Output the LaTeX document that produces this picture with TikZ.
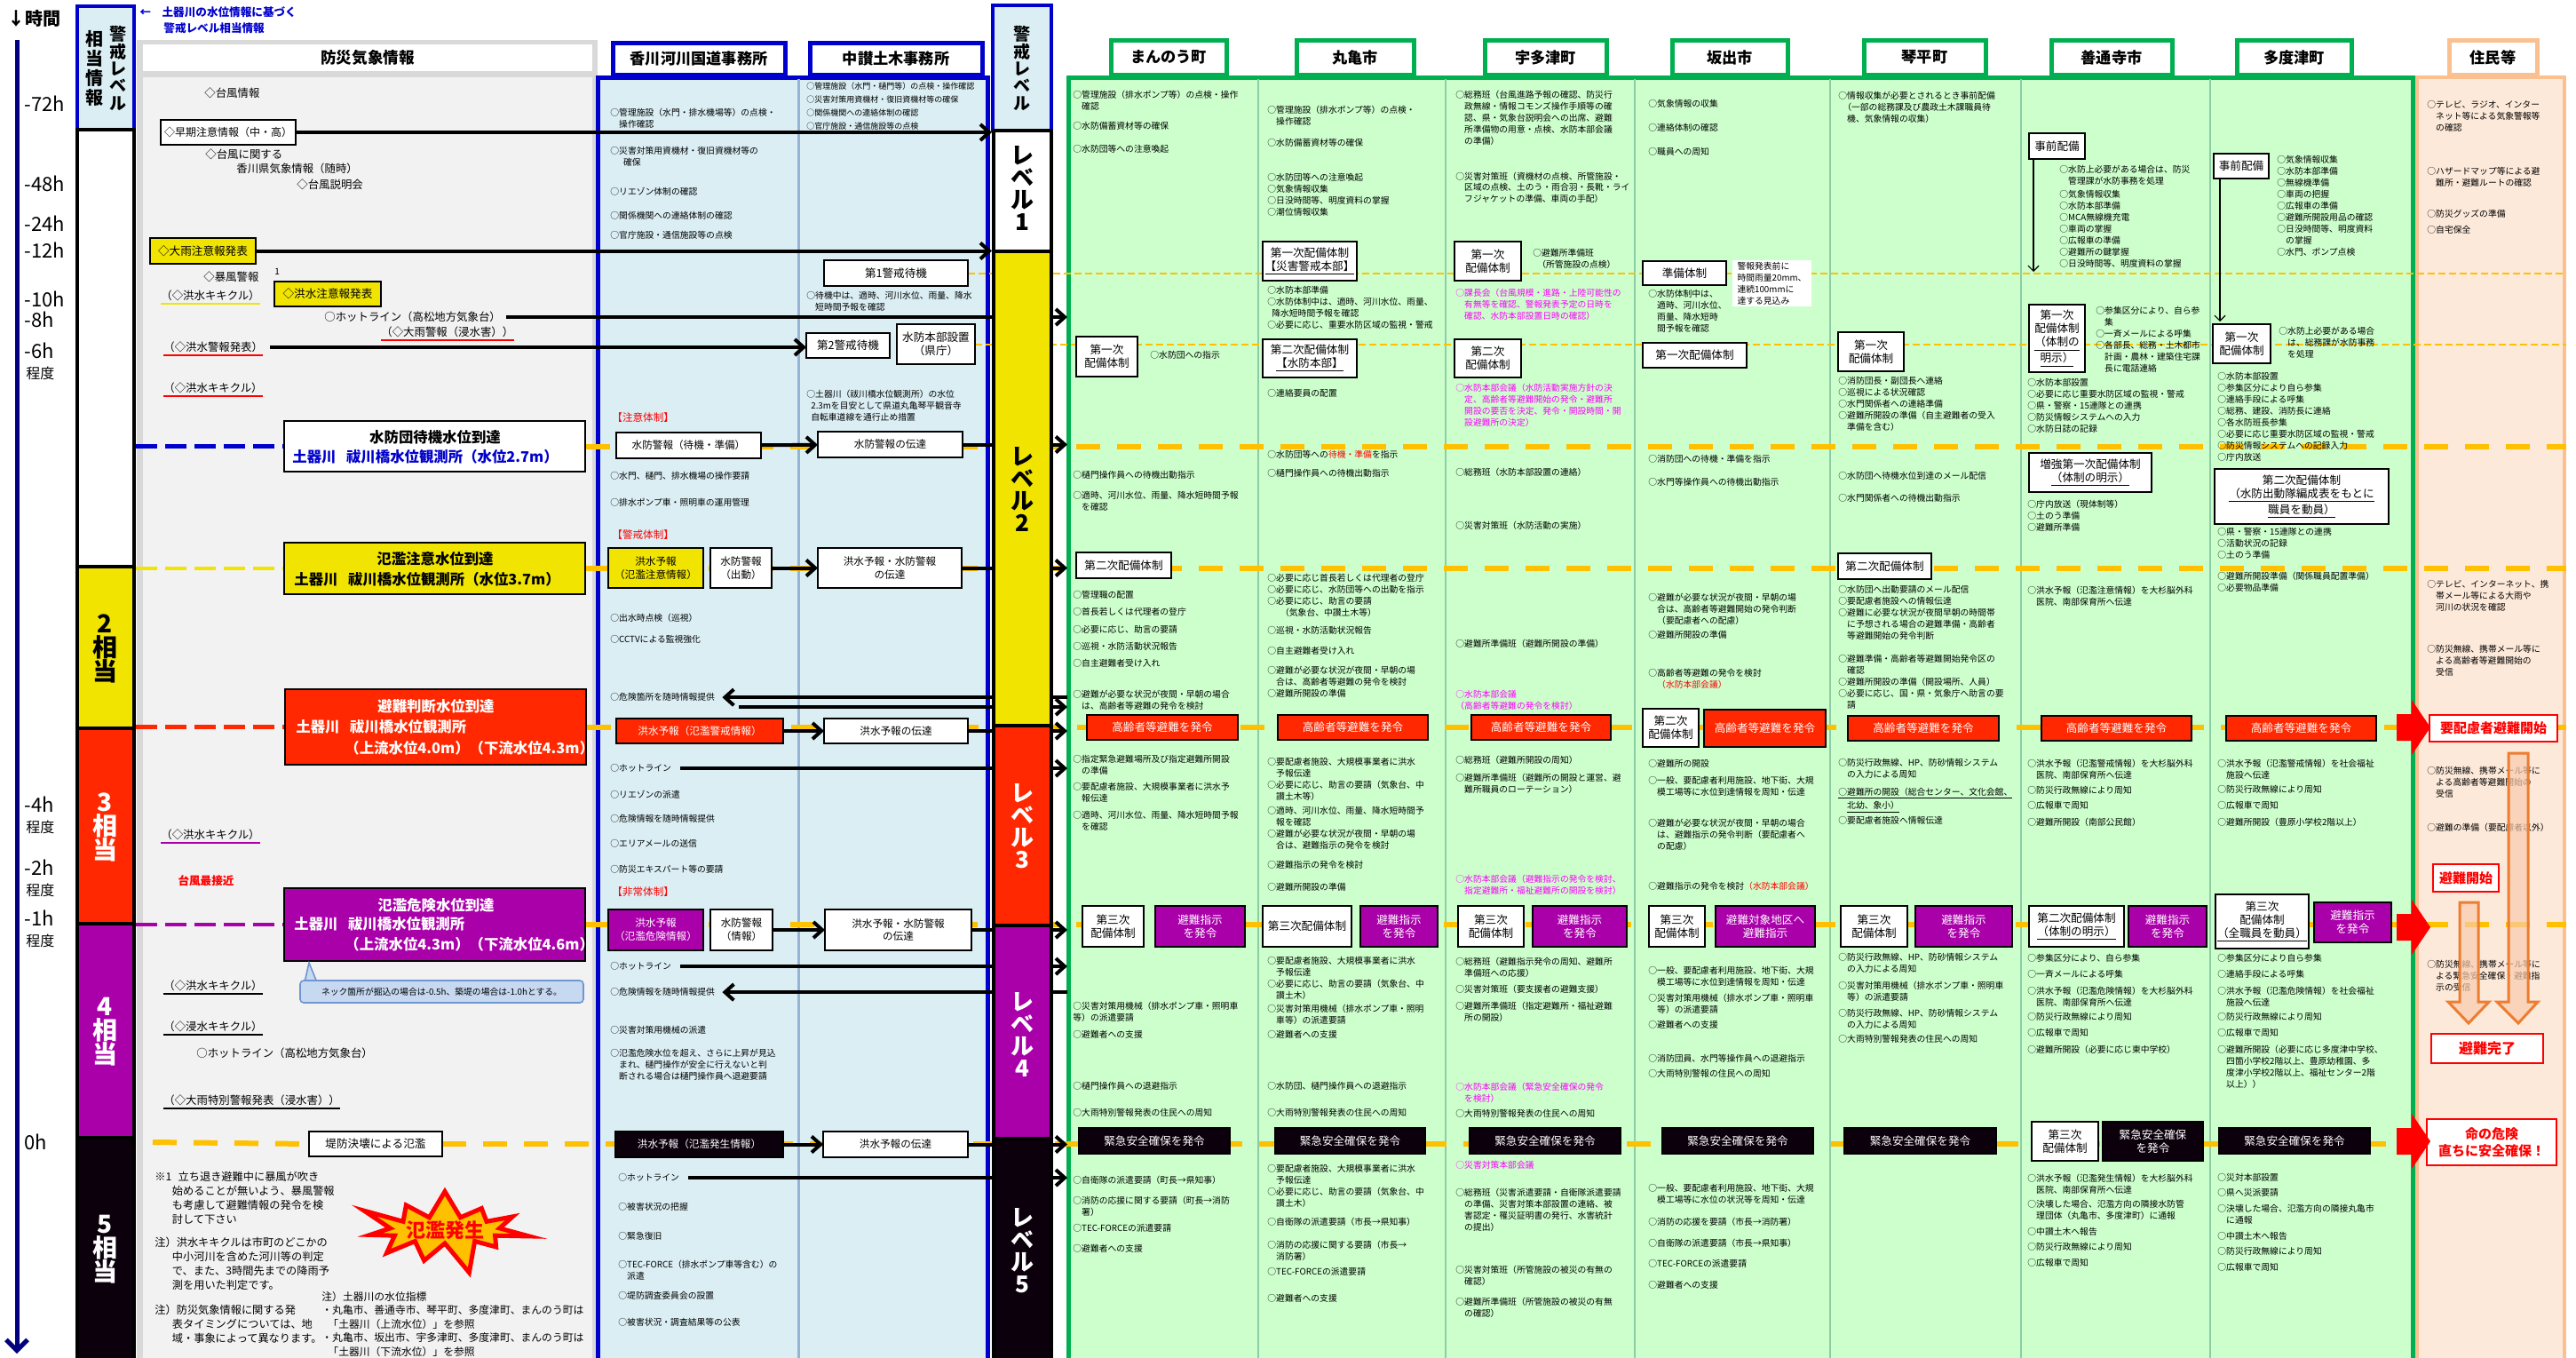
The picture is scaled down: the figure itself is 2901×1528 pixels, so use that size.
\documentclass[tikz,border=0pt]{standalone}
\usepackage{fontspec}
\setmainfont{Noto Sans CJK JP}
\setsansfont{Noto Sans CJK JP}
\usepackage{tikz}
\usetikzlibrary{arrows.meta, shapes.symbols, calc}

\definecolor{lvYel}{RGB}{240,228,0}
\definecolor{lvRed}{RGB}{255,40,0}
\definecolor{lvPur}{RGB}{170,0,170}
\definecolor{lvBlk}{RGB}{12,0,12}
\definecolor{frBlue}{RGB}{0,0,204}
\definecolor{bgBlue}{RGB}{218,238,243}
\definecolor{gold}{RGB}{255,192,0}
\definecolor{frGreen}{RGB}{0,176,80}
\definecolor{bgGreen}{RGB}{204,255,204}
\definecolor{dvGreen}{RGB}{140,205,165}
\definecolor{bgPeach}{RGB}{253,233,217}
\definecolor{frPeach}{RGB}{250,192,144}
\definecolor{txMag}{RGB}{255,0,255}
\definecolor{txRed}{RGB}{255,0,0}
\definecolor{bgGray}{RGB}{242,242,242}
\definecolor{frGray}{RGB}{217,217,217}
\definecolor{dvBlue}{RGB}{149,179,215}
\definecolor{navy}{RGB}{0,0,128}
\definecolor{bgCall}{RGB}{198,217,241}
\definecolor{frCall}{RGB}{110,150,210}
\definecolor{orgDark}{RGB}{237,125,49}
\definecolor{orgLite}{RGB}{248,203,173}

\pgfdeclarelayer{bg}
\pgfdeclarelayer{ln}
\pgfsetlayers{bg,ln,main}

% small text at first-line centre
\newcommand{\tx}[5][black]{\node[tx,text=#1] (#2) at (#3,#4) {#5};}
% box from corner to corner
\newcommand{\bx}[7]{\node[#1, minimum width={(#5-#3)*0.5pt}, minimum height={(#6-#4)*0.5pt}] (#2) at ({(#3+#5)/2},{(#4+#6)/2}) {#7};}
\newcommand{\ind}{\hspace*{1em}}

\begin{document}
\begin{tikzpicture}[x=0.5pt, y=-0.5pt,
    tx/.style={anchor=north west, inner sep=0pt, align=left, yshift=2.4pt, font=\fontsize{4.9}{6.5}\selectfont},
    ctx/.style={tx, font=\fontsize{4.5}{6}\selectfont},
    gtx/.style={anchor=west, inner sep=0pt, font=\fontsize{6.2}{7.4}\selectfont},
    ntx/.style={anchor=north west, inner sep=0pt, align=left, yshift=3pt, font=\fontsize{6.1}{7.9}\selectfont},
    bxb/.style={draw=black, line width=0.8pt, inner sep=0.5pt, outer sep=0pt, align=center, font=\fontsize{6.3}{7.6}\selectfont},
    wbox/.style={bxb, fill=white},
    rbox/.style={bxb, fill=lvRed, text=white},
    pbox/.style={bxb, fill=lvPur, text=white},
    kbox/.style={bxb, fill=lvBlk, text=white},
    ybox/.style={bxb, fill=lvYel},
    sbox/.style={font=\fontsize{5.8}{7.4}\selectfont},
    nbox/.style={fill=white, inner sep=1pt, align=left, font=\fontsize{4.9}{6.5}\selectfont},
    hbB/.style={draw=frBlue, line width=2.5pt, fill=white, inner sep=0pt, font=\bfseries\fontsize{8.6}{9}\selectfont},
    hbG/.style={hbB, draw=frGreen},
    hbP/.style={hbB, draw=frPeach},
    hbW/.style={fill=white, inner sep=0pt, font=\bfseries\fontsize{8.8}{9}\selectfont},
    rwb/.style={draw=txRed, line width=1.2pt, fill=white, text=txRed, inner sep=0pt, align=center, font=\bfseries\fontsize{7.5}{9.5}\selectfont},
    lvseg/.style={draw=black, line width=2pt, inner sep=0pt},
    lvhead/.style={draw=frBlue, line width=2pt, fill=bgBlue, inner sep=0pt},
    vtx/.style={align=center, inner sep=0pt, font=\bfseries\fontsize{9.5}{9.7}\selectfont},
    lvt/.style={align=center, inner sep=0pt, font=\bfseries\fontsize{13}{12.5}\selectfont},
    swt/.style={align=center, inner sep=0pt, font=\bfseries\fontsize{14}{13.5}\selectfont},
    wlb/.style={draw=black, line width=1.3pt},
    wlt/.style={inner sep=0pt, font=\bfseries\fontsize{8.2}{9}\selectfont},
    tlab/.style={anchor=west, inner sep=0pt, font=\fontsize{11}{12}\selectfont},
    arr/.style={line width=2pt, -{Straight Barb[length=5pt,width=9pt]}},
    gdash/.style={gold, line width=3pt, dash pattern=on 13.5pt off 9.5pt},
    gthin/.style={gold, line width=1pt, dash pattern=on 4pt off 2pt},
    ldash/.style={line width=2.3pt, dash pattern=on 12pt off 4.5pt},
    ul/.style={line width=1.1pt}]
\useasboundingbox (0,0) rectangle (2901,1528);

% ---------- backgrounds
\begin{pgfonlayer}{bg}
    \fill[white] (0,0) rectangle (2901,1528);
    \fill[frGray] (154,45) rectangle (673,1540);
    \fill[bgGray] (161,87) rectangle (667,1540);
    \draw[frBlue, line width=2.5pt, fill=bgBlue] (673,1540) -- (673,87) -- (1112,87) -- (1112,1540);
    \draw[dvBlue, line width=1.5pt] (899,89) -- (899,1540);
    \draw[frGreen, line width=2.5pt, fill=bgGreen] (1203,1540) -- (1203,87) -- (2717,87) -- (2717,1540);
    \foreach \xx in {1417,1628,1841,2061,2276,2489}
        \draw[dvGreen, line width=1.2pt] (\xx,89) -- (\xx,1540);
    \draw[frPeach, line width=2pt, fill=bgPeach] (2722,1540) -- (2722,87) -- (2888,87) -- (2888,1540);
\end{pgfonlayer}

\coordinate (gL) at (1202,0);
\coordinate (pR) at (2890,0);

% ---------- time axis
\node[anchor=west, inner sep=0pt, font=\bfseries\fontsize{10}{11}\selectfont] (tHead) at (8,21) {↓時間};
\coordinate (tTop) at (19,45);
\coordinate (tBot) at (19,1524);
\draw[navy, line width=2.5pt, -{Straight Barb[length=6pt,width=12pt]}] (tTop) -- (tBot);
\foreach \t/\yy in {-72h/117, -48h/207, -24h/252, -12h/282, -10h/337, -8h/360, -6h/395, -4h/906, -2h/977, -1h/1034, 0h/1286}
    \node[tlab] (t\yy) at (27,\yy) {\t};
\foreach \yy in {420, 931, 1002, 1059}
    \node[anchor=west, inner sep=0pt, font=\fontsize{8}{9}\selectfont] (d\yy) at (29,\yy) {程度};

% ---------- level equivalent column
\node[anchor=west, inner sep=0pt, text=frBlue, font=\bfseries\fontsize{6.3}{7}\selectfont] (topA) at (157,14) {←\hspace{1em}土器川の水位情報に基づく};
\node[anchor=west, inner sep=0pt, text=frBlue, font=\bfseries\fontsize{6.3}{7}\selectfont] (topB) at (184,32) {警戒レベル相当情報};
\bx{lvhead}{sH}{87}{7}{151}{146}{}
\node[vtx] (sHa) at (133,77) {警\\戒\\レ\\ベ\\ル};
\node[vtx, font=\bfseries\fontsize{10}{10.9}\selectfont] (sHb) at (106,77) {相\\当\\情\\報};
\bx{lvseg, fill=white}{s1}{87}{146}{151}{638}{}
\bx{lvseg, fill=lvYel}{s2}{87}{638}{151}{820}{}
\bx{lvseg, fill=lvRed}{s3}{87}{820}{151}{1040}{}
\bx{lvseg, fill=lvPur}{s4}{87}{1040}{151}{1281}{}
\bx{lvseg, fill=lvBlk}{s5}{87}{1281}{151}{1540}{}
\node[swt] (s2t) at (118,730) {2\\相\\当};
\node[swt, text=white] (s3t) at (118,931) {3\\相\\当};
\node[swt, text=white] (s4t) at (118,1162) {4\\相\\当};
\node[swt, text=white] (s5t) at (118,1407) {5\\相\\当};

% ---------- weather information column
\bx{hbW}{hBou}{161}{50}{667}{80}{防災気象情報}
\node[gtx] (b1) at (230,105) {◇台風情報};
\bx{wbox, font=\fontsize{6}{7}\selectfont}{early}{181}{135}{333}{163}{◇早期注意情報（中・高）}
\node[gtx] (b2) at (231,174) {◇台風に関する};
\node[gtx] (b3) at (266,190) {香川県気象情報（随時）};
\node[gtx] (b4) at (334,208) {◇台風説明会};
\bx{ybox}{heavy}{169}{268}{288}{297}{◇大雨注意報発表}
\node[gtx] (b5) at (229,312) {◇暴風警報};
\node[gtx, font=\fontsize{5}{6}\selectfont] (b5n) at (309,306) {1};
\node[gtx] (b6) at (181,333) {（◇洪水キキクル）};
\bx{ybox}{floodA}{309}{317}{429}{345}{◇洪水注意報発表}
\node[gtx] (b7) at (365,357) {○ホットライン（高松地方気象台）};
\node[gtx] (b8) at (429,374) {（◇大雨警報（浸水害））};
\node[gtx] (b9) at (184,391) {（◇洪水警報発表）};
\node[gtx] (b10) at (184,437) {（◇洪水キキクル）};

\bx{wlb, fill=white}{wl1}{320}{474}{659}{531}{}
\node[wlt] (wl1a) at (490,492) {水防団待機水位到達};
\node[wlt, anchor=west, text=frBlue] (wl1b) at (329,514) {土器川\hspace{0.7em}祓川橋水位観測所（水位2.7m）};
\bx{wlb, fill=lvYel}{wl2}{320}{611}{659}{669}{}
\node[wlt] (wl2a) at (490,629) {氾濫注意水位到達};
\node[wlt, anchor=west] (wl2b) at (331,652) {土器川\hspace{0.7em}祓川橋水位観測所（水位3.7m）};
\bx{wlb, fill=lvRed}{wl3}{321}{776}{660}{861}{}
\node[wlt, text=white] (wl3a) at (491,795) {避難判断水位到達};
\node[wlt, anchor=west, text=white] (wl3b) at (333,818) {土器川\hspace{0.7em}祓川橋水位観測所};
\node[wlt, anchor=west, text=white] (wl3c) at (388,842) {（上流水位4.0m）（下流水位4.3m）};
\node[gtx] (b11) at (181,940) {（◇洪水キキクル）};
\node[inner sep=0pt, text=txRed, font=\bfseries\fontsize{6.3}{7}\selectfont] (typh) at (232,992) {台風最接近};
\bx{wlb, fill=lvPur}{wl4}{320}{1000}{659}{1082}{}
\node[wlt, text=white] (wl4a) at (491,1019) {氾濫危険水位到達};
\node[wlt, anchor=west, text=white] (wl4b) at (331,1040) {土器川\hspace{0.7em}祓川橋水位観測所};
\node[wlt, anchor=west, text=white] (wl4c) at (388,1063) {（上流水位4.3m）（下流水位4.6m）};
\draw[frCall, line width=0.8pt, fill=bgCall] (343,1106) -- (348,1084) -- (357,1106);
\node[draw=frCall, line width=0.8pt, fill=bgCall, rounded corners=2pt, minimum width=159.5pt, minimum height=12.5pt, inner sep=0pt, font=\fontsize{4.9}{5.5}\selectfont] (neck) at (497.5,1116.5) {ネック箇所が掘込の場合は-0.5h、築堤の場合は-1.0hとする。};
\node[gtx] (b13) at (184,1110) {（◇洪水キキクル）};
\node[gtx] (b14) at (184,1156) {（◇浸水キキクル）};
\node[gtx] (b15) at (221,1186) {○ホットライン（高松地方気象台）};
\node[gtx] (b16) at (184,1239) {（◇大雨特別警報発表（浸水害））};
\bx{wbox}{breach}{348}{1274}{498}{1302}{堤防決壊による氾濫}
\node[ntx] (n1) at (174,1325) {※1\hspace{0.6em}立ち退き避難中に暴風が吹き\\\hspace*{1.6em}始めることが無いよう、暴風警報\\\hspace*{1.6em}も考慮して避難情報の発令を検\\\hspace*{1.6em}討して下さい};
\node[ntx] (n2) at (174,1399) {注）洪水キキクルは市町のどこかの\\\hspace*{1.6em}中小河川を含めた河川等の判定\\\hspace*{1.6em}で、また、3時間先までの降雨予\\\hspace*{1.6em}測を用いた判定です。};
\node[ntx] (n3) at (174,1475) {注）防災気象情報に関する発\\\hspace*{1.6em}表タイミングについては、地\\\hspace*{1.6em}域・事象によって異なります。};
\node[ntx, font=\fontsize{5.9}{7.7}\selectfont] (n4) at (362,1460) {注）土器川の水位指標\\・丸亀市、善通寺市、琴平町、多度津町、まんのう町は\\\hspace*{0.6em}「土器川（上流水位）」を参照\\・丸亀市、坂出市、宇多津町、多度津町、まんのう町は\\\hspace*{0.6em}「土器川（下流水位）」を参照};
\node[starburst, starburst points=11, starburst point height=20pt, fill=gold, draw=txRed, line width=2.5pt, minimum width=80pt, minimum height=40pt, inner sep=0pt, text=txRed, font=\bfseries\fontsize{11}{12}\selectfont] (burst) at (501,1385) {氾濫発生};

% ---------- river office columns
\bx{hbB}{hKag}{690}{48}{884}{84}{香川河川国道事務所}
\bx{hbB}{hChu}{912}{48}{1106}{84}{中讃土木事務所}
\tx{k1}{687}{127}{○管理施設（水門・排水機場等）の点検・\\\ind 操作確認}
\tx{k2}{687}{170}{○災害対策用資機材・復旧資機材等の\\\hspace*{1.5em}確保}
\tx{k3}{687}{216}{○リエゾン体制の確認}
\tx{k4}{687}{243}{○関係機関への連絡体制の確認}
\tx{k5}{687}{265}{○官庁施設・通信施設等の点検}
\node[ctx] (c1) at (908,97) {○管理施設（水門・樋門等）の点検・操作確認};
\node[ctx] (c2) at (908,112) {○災害対策用資機材・復旧資機材等の確保};
\node[ctx] (c3) at (908,127) {○関係機関への連絡体制の確認};
\node[ctx] (c4) at (908,142) {○官庁施設・通信施設等の点検};
\bx{wbox}{kw1}{928}{293}{1090}{322}{第1警戒待機}
\tx{c5}{908}{333}{○待機中は、適時、河川水位、雨量、降水\\\ind 短時間予報を確認}
\bx{wbox}{kw2}{908}{375}{1002}{403}{第2警戒待機}
\bx{wbox}{hq}{1010}{365}{1098}{410}{水防本部設置\\（県庁）}
\tx{c6}{908}{443}{○土器川（祓川橋水位観測所）の水位\\\hspace*{0.5em}2.3mを目安として県道丸亀琴平観音寺\\\hspace*{0.5em}自転車道線を通行止め措置}
\node[anchor=west, inner sep=0pt, text=txRed, font=\fontsize{5.8}{7}\selectfont] (kz1) at (689,470) {【注意体制】};
\bx{wbox,sbox}{sb1}{694}{487}{857}{516}{水防警報（待機・準備）}
\bx{wbox,sbox}{sb1t}{921}{486}{1084}{515}{水防警報の伝達}
\tx{k6}{687}{536}{○水門、樋門、排水機場の操作要請}
\tx{k7}{687}{566}{○排水ポンプ車・照明車の運用管理}
\node[anchor=west, inner sep=0pt, text=txRed, font=\fontsize{5.8}{7}\selectfont] (kz2) at (689,602) {【警戒体制】};
\bx{ybox,sbox}{fy}{685}{617}{792}{662}{洪水予報\\（氾濫注意情報）}
\bx{wbox,sbox}{fy2}{800}{617}{869}{662}{水防警報\\（出動）}
\bx{wbox,sbox}{fyt}{921}{617}{1083}{662}{洪水予報・水防警報\\の伝達}
\tx{k8}{687}{695}{○出水時点検（巡視）}
\tx{k9}{687}{720}{○CCTVによる監視強化}
\tx{k10}{687}{785}{○危険箇所を随時情報提供}
\coordinate (dB) at (832,796);
\bx{rbox,sbox}{fr}{694}{809}{882}{837}{洪水予報（氾濫警戒情報）}
\bx{wbox,sbox}{frt}{928}{809}{1090}{837}{洪水予報の伝達}
\tx{k11}{687}{865}{○ホットライン}
\tx{k12}{687}{895}{○リエゾンの派遣}
\tx{k13}{687}{922}{○危険情報を随時情報提供}
\tx{k14}{687}{950}{○エリアメールの送信}
\tx{k15}{687}{979}{○防災エキスパート等の要請}
\node[anchor=west, inner sep=0pt, text=txRed, font=\fontsize{5.8}{7}\selectfont] (kz3) at (689,1004) {【非常体制】};
\bx{pbox,sbox}{fp}{685}{1024}{792}{1070}{洪水予報\\（氾濫危険情報）}
\bx{wbox,sbox}{fp2}{800}{1024}{870}{1070}{水防警報\\（情報）}
\bx{wbox,sbox}{fpt}{929}{1024}{1094}{1070}{洪水予報・水防警報\\の伝達}
\tx{k16}{687}{1088}{○ホットライン}
\tx{k17}{687}{1117}{○危険情報を随時情報提供}
\tx{k18}{687}{1160}{○災害対策用機械の派遣}
\tx{k19}{687}{1186}{○氾濫危険水位を超え、さらに上昇が見込\\\ind まれ、樋門操作が安全に行えないと判\\\ind 断される場合は樋門操作員へ退避要請}
\bx{kbox,sbox}{fk}{693}{1274}{882}{1303}{洪水予報（氾濫発生情報）}
\bx{wbox,sbox}{fkt}{927}{1274}{1090}{1303}{洪水予報の伝達}
\tx{k20}{696}{1326}{○ホットライン}
\tx{k21}{696}{1359}{○被害状況の把握}
\tx{k22}{696}{1392}{○緊急復旧}
\tx{k23}{696}{1423}{○TEC-FORCE（排水ポンプ車等含む）の\\\ind 派遣}
\tx{k24}{696}{1459}{○堤防調査委員会の設置}
\tx{k25}{696}{1489}{○被害状況・調査結果等の公表}

% ---------- alert level column
\bx{lvhead}{lvH}{1118}{6}{1184}{147}{}
\node[vtx] (lvHt) at (1151,77) {警\\戒\\レ\\ベ\\ル};
\bx{lvseg, fill=white}{lv1}{1119}{147}{1184}{283}{}
\bx{lvseg, fill=lvYel}{lv2}{1119}{283}{1184}{817}{}
\bx{lvseg, fill=lvRed}{lv3}{1119}{817}{1184}{1042}{}
\bx{lvseg, fill=lvPur}{lv4}{1119}{1042}{1184}{1282}{}
\bx{lvseg, fill=lvBlk}{lv5}{1119}{1282}{1184}{1540}{}
\node[lvt] (lv1t) at (1151,212) {レ\\ベ\\ル\\1};
\node[lvt] (lv2t) at (1151,551) {レ\\ベ\\ル\\2};
\node[lvt, text=white] (lv3t) at (1151,930) {レ\\ベ\\ル\\3};
\node[lvt, text=white] (lv4t) at (1151,1165) {レ\\ベ\\ル\\4};
\node[lvt, text=white] (lv5t) at (1151,1408) {レ\\ベ\\ル\\5};

% ---------- municipality headers
\bx{hbG}{hMan}{1251}{45}{1381}{84}{まんのう町}
\bx{hbG}{hMar}{1460}{45}{1592}{84}{丸亀市}
\bx{hbG}{hUta}{1672}{45}{1809}{84}{宇多津町}
\bx{hbG}{hSak}{1883}{45}{2013}{84}{坂出市}
\bx{hbG}{hKot}{2099}{45}{2236}{84}{琴平町}
\bx{hbG}{hZen}{2310}{45}{2446}{84}{善通寺市}
\bx{hbG}{hTad}{2519}{45}{2648}{84}{多度津町}
\bx{hbP}{hJum}{2758}{45}{2857}{84}{住民等}

% ---------- まんのう町
\tx{ma1}{1208}{107}{○管理施設（排水ポンプ等）の点検・操作\\\ind 確認}
\tx{ma2}{1208}{142}{○水防備蓄資材等の確保}
\tx{ma3}{1208}{168}{○水防団等への注意喚起}
\bx{wbox}{maB1}{1212}{379}{1281}{424}{第一次\\配備体制}
\tx{ma4}{1295}{400}{○水防団への指示}
\tx{ma5}{1208}{535}{○樋門操作員への待機出動指示}
\tx{ma6}{1208}{558}{○適時、河川水位、雨量、降水短時間予報\\\ind を確認}
\bx{wbox}{maB2}{1212}{622}{1319}{651}{第二次配備体制}
\tx{ma7}{1208}{670}{○管理職の配置}
\tx{ma8}{1208}{689}{○首長若しくは代理者の登庁}
\tx{ma9}{1208}{709}{○必要に応じ、助言の要請}
\tx{ma10}{1208}{728}{○巡視・水防活動状況報告}
\tx{ma11}{1208}{747}{○自主避難者受け入れ}
\tx{ma12}{1208}{782}{○避難が必要な状況が夜間・早朝の場合\\\ind は、高齢者等避難の発令を検討}
\bx{rbox}{maR}{1224}{805}{1394}{833}{高齢者等避難を発令}
\tx{ma13}{1208}{855}{○指定緊急避難場所及び指定避難所開設\\\ind の準備}
\tx{ma14}{1208}{886}{○要配慮者施設、大規模事業者に洪水予\\\ind 報伝達}
\tx{ma15}{1208}{918}{○適時、河川水位、雨量、降水短時間予報\\\ind を確認}
\bx{wbox}{maB3}{1219}{1020}{1288}{1066}{第三次\\配備体制}
\bx{pbox}{maP}{1301}{1020}{1402}{1066}{避難指示\\を発令}
\tx{ma16}{1208}{1132}{○災害対策用機械（排水ポンプ車・照明車\\等）の派遣要請}
\tx{ma17}{1208}{1165}{○避難者への支援}
\tx{ma18}{1208}{1223}{○樋門操作員への退避指示}
\tx{ma19}{1208}{1253}{○大雨特別警報発表の住民への周知}
\bx{kbox}{maK}{1215}{1270}{1385}{1299}{緊急安全確保を発令}
\tx{ma20}{1208}{1328}{○自衛隊の派遣要請（町長→県知事）}
\tx{ma21}{1208}{1351}{○消防の応援に関する要請（町長→消防\\\ind 署）}
\tx{ma22}{1208}{1383}{○TEC-FORCEの派遣要請}
\tx{ma23}{1208}{1406}{○避難者への支援}

% ---------- 丸亀市
\tx{mr1}{1427}{124}{○管理施設（排水ポンプ等）の点検・\\\ind 操作確認}
\tx{mr2}{1427}{161}{○水防備蓄資材等の確保}
\tx{mr3}{1427}{200}{○水防団等への注意喚起\\○気象情報収集\\○日没時間等、明度資料の掌握\\○潮位情報収集}
\bx{wbox}{mrB1}{1422}{272}{1528}{316}{第一次配備体制\\\underline{【災害警戒本部】}}
\tx{mr4}{1427}{327}{○水防本部準備\\○水防体制中は、適時、河川水位、雨量、\\\hspace*{0.5em}降水短時間予報を確認\\○必要に応じ、重要水防区域の監視・警戒}
\bx{wbox}{mrB2}{1422}{382}{1528}{425}{第二次配備体制\\\underline{【水防本部】}}
\tx{mr5}{1427}{443}{○連絡要員の配置}
\tx{mr6}{1427}{512}{○水防団等への\textcolor{txRed}{待機・準備}を指示}
\tx{mr7}{1427}{533}{○樋門操作員への待機出動指示}
\tx{mr8}{1427}{651}{○必要に応じ首長若しくは代理者の登庁\\○必要に応じ、水防団等への出動を指示\\○必要に応じ、助言の要請\\\hspace*{1.5em}（気象台、中讃土木等）}
\tx{mr9}{1427}{710}{○巡視・水防活動状況報告}
\tx{mr10}{1427}{733}{○自主避難者受け入れ}
\tx{mr11}{1427}{755}{○避難が必要な状況が夜間・早朝の場\\\ind 合は、高齢者等避難の発令を検討\\○避難所開設の準備}
\bx{rbox}{mrR}{1439}{805}{1608}{833}{高齢者等避難を発令}
\tx{mr12}{1427}{858}{○要配慮者施設、大規模事業者に洪水\\\ind 予報伝達\\○必要に応じ、助言の要請（気象台、中\\\ind 讃土木等）}
\tx{mr13}{1427}{913}{○適時、河川水位、雨量、降水短時間予\\\ind 報を確認\\○避難が必要な状況が夜間・早朝の場\\\ind 合は、避難指示の発令を検討}
\tx{mr14}{1427}{974}{○避難指示の発令を検討}
\tx{mr15}{1427}{999}{○避難所開設の準備}
\bx{wbox}{mrB3}{1422}{1020}{1522}{1066}{第三次配備体制}
\bx{pbox}{mrP}{1532}{1020}{1619}{1066}{避難指示\\を発令}
\tx{mr16}{1427}{1082}{○要配慮者施設、大規模事業者に洪水\\\ind 予報伝達\\○必要に応じ、助言の要請（気象台、中\\\ind 讃土木）}
\tx{mr17}{1427}{1135}{○災害対策用機械（排水ポンプ車・照明\\\ind 車等）の派遣要請}
\tx{mr18}{1427}{1165}{○避難者への支援}
\tx{mr19}{1427}{1223}{○水防団、樋門操作員への退避指示}
\tx{mr20}{1427}{1253}{○大雨特別警報発表の住民への周知}
\bx{kbox}{mrK}{1436}{1270}{1605}{1299}{緊急安全確保を発令}
\tx{mr21}{1427}{1316}{○要配慮者施設、大規模事業者に洪水\\\ind 予報伝達\\○必要に応じ、助言の要請（気象台、中\\\ind 讃土木）}
\tx{mr22}{1427}{1375}{○自衛隊の派遣要請（市長→県知事）}
\tx{mr23}{1427}{1401}{○消防の応援に関する要請（市長→\\\ind 消防署）}
\tx{mr24}{1427}{1432}{○TEC-FORCEの派遣要請}
\tx{mr25}{1427}{1462}{○避難者への支援}

% ---------- 宇多津町
\tx{ut1}{1639}{107}{○総務班（台風進路予報の確認、防災行\\\ind 政無線・情報コモンズ操作手順等の確\\\ind 認、県・気象台説明会への出席、避難\\\ind 所準備物の用意・点検、水防本部会議\\\ind の準備）}
\tx{ut2}{1639}{198}{○災害対策班（資機材の点検、所管施設・\\\ind 区域の点検、土のう・雨合羽・長靴・ライ\\\ind フジャケットの準備、車両の手配）}
\bx{wbox}{utB1}{1638}{272}{1713}{316}{第一次\\配備体制}
\tx{ut3}{1726}{285}{○避難所準備班\\\hspace*{0.5em}（所管施設の点検）}
\tx[txMag]{ut4}{1639}{329}{○課長会（台風規模・進路・上陸可能性の\\\ind 有無等を確認、警報発表予定の日時を\\\ind 確認、水防本部設置日時の確認）}
\bx{wbox}{utB2}{1638}{382}{1713}{425}{第二次\\配備体制}
\tx[txMag]{ut5}{1639}{436}{○水防本部会議（水防活動実施方針の決\\\ind 定、高齢者等避難開始の発令・避難所\\\ind 開設の要否を決定、発令・開設時間・開\\\ind 設避難所の決定）}
\tx{ut6}{1639}{531}{○総務班（水防本部設置の連絡）}
\tx{ut7}{1639}{591}{○災害対策班（水防活動の実施）}
\tx{ut8}{1639}{724}{○避難所準備班（避難所開設の準備）}
\tx[txMag]{ut9}{1639}{782}{○水防本部会議\\（高齢者等避難の発令を検討）}
\bx{rbox}{utR}{1657}{805}{1814}{833}{高齢者等避難を発令}
\tx{ut10}{1639}{855}{○総務班（避難所開設の周知）}
\tx{ut11}{1639}{875}{○避難所準備班（避難所の開設と運営、避\\\ind 難所職員のローテーション）}
\tx[txMag]{ut12}{1639}{989}{○水防本部会議（避難指示の発令を検討、\\\ind 指定避難所・福祉避難所の開設を検討）}
\bx{wbox}{utB3}{1642}{1020}{1716}{1066}{第三次\\配備体制}
\bx{pbox}{utP}{1726}{1020}{1832}{1066}{避難指示\\を発令}
\tx{ut13}{1639}{1082}{○総務班（避難指示発令の周知、避難所\\\ind 準備班への応援）}
\tx{ut14}{1639}{1113}{○災害対策班（要支援者の避難支援）}
\tx{ut15}{1639}{1132}{○避難所準備班（指定避難所・福祉避難\\\ind 所の開設）}
\tx[txMag]{ut16}{1639}{1223}{○水防本部会議（緊急安全確保の発令\\\ind を検討）}
\tx{ut17}{1639}{1254}{○大雨特別警報発表の住民への周知}
\bx{kbox}{utK}{1655}{1270}{1825}{1299}{緊急安全確保を発令}
\tx[txMag]{ut18}{1639}{1312}{○災害対策本部会議}
\tx{ut19}{1639}{1342}{○総務班（災害派遣要請・自衛隊派遣要請\\\ind の準備、災害対策本部設置の連絡、被\\\ind 害認定・罹災証明書の発行、水害統計\\\ind の提出）}
\tx{ut20}{1639}{1429}{○災害対策班（所管施設の被災の有無の\\\ind 確認）}
\tx{ut21}{1639}{1465}{○避難所準備班（所管施設の被災の有無\\\ind の確認）}

% ---------- 坂出市
\tx{sk1}{1856}{117}{○気象情報の収集}
\tx{sk2}{1856}{144}{○連絡体制の確認}
\tx{sk3}{1856}{171}{○職員への周知}
\bx{wbox}{skB0}{1850}{294}{1944}{321}{準備体制}
\bx{nbox}{skN}{1951}{294}{2040}{344}{警報発表前に\\時間雨量20mm、\\連続100mmに\\達する見込み}
\tx{sk4}{1856}{331}{○水防体制中は、\\\ind 適時、河川水位、\\\ind 雨量、降水短時\\\ind 間予報を確認}
\bx{wbox}{skB1}{1850}{386}{1967}{414}{第一次配備体制}
\tx{sk5}{1856}{517}{○消防団への待機・準備を指示}
\tx{sk6}{1856}{543}{○水門等操作員への待機出動指示}
\tx{sk7}{1856}{673}{○避難が必要な状況が夜間・早朝の場\\\ind 合は、高齢者等避難開始の発令判断\\\ind （要配慮者への配慮）}
\tx{sk8}{1856}{715}{○避難所開設の準備}
\tx{sk9}{1856}{758}{○高齢者等避難の発令を検討\\\ind \textcolor{txRed}{（水防本部会議）}}
\bx{wbox}{skB2}{1850}{798}{1913}{841}{第二次\\配備体制}
\bx{rbox}{skR}{1919}{799}{2056}{841}{高齢者等避難を発令}
\tx{sk10}{1856}{860}{○避難所の開設}
\tx{sk11}{1856}{879}{○一般、要配慮者利用施設、地下街、大規\\\ind 模工場等に水位到達情報を周知・伝達}
\tx{sk12}{1856}{927}{○避難が必要な状況が夜間・早朝の場合\\\ind は、避難指示の発令判断（要配慮者へ\\\ind の配慮）}
\tx{sk13}{1856}{997}{○避難指示の発令を検討\textcolor{txRed}{（水防本部会議）}}
\bx{wbox}{skB3}{1857}{1020}{1920}{1066}{第三次\\配備体制}
\bx{pbox}{skP}{1932}{1020}{2044}{1066}{避難対象地区へ\\避難指示}
\tx{sk14}{1856}{1093}{○一般、要配慮者利用施設、地下街、大規\\\ind 模工場等に水位到達情報を周知・伝達}
\tx{sk15}{1856}{1123}{○災害対策用機械（排水ポンプ車・照明車\\\ind 等）の派遣要請}
\tx{sk16}{1856}{1154}{○避難者への支援}
\tx{sk17}{1856}{1192}{○消防団員、水門等操作員への退避指示}
\tx{sk18}{1856}{1209}{○大雨特別警報の住民への周知}
\bx{kbox}{skK}{1872}{1270}{2042}{1299}{緊急安全確保を発令}
\tx{sk19}{1856}{1338}{○一般、要配慮者利用施設、地下街、大規\\\ind 模工場等に水位の状況等を周知・伝達}
\tx{sk20}{1856}{1375}{○消防の応援を要請（市長→消防署）}
\tx{sk21}{1856}{1399}{○自衛隊の派遣要請（市長→県知事）}
\tx{sk22}{1856}{1423}{○TEC-FORCEの派遣要請}
\tx{sk23}{1856}{1447}{○避難者への支援}

% ---------- 琴平町
\tx{kt1}{2070}{108}{○情報収集が必要とされるとき事前配備\\\hspace*{0.5em}（一部の総務課及び農政土木課職員待\\\ind 機、気象情報の収集）}
\bx{wbox}{ktB1}{2070}{374}{2144}{418}{第一次\\配備体制}
\tx{kt2}{2070}{429}{○消防団長・副団長へ連絡\\○巡視による状況確認\\○水門関係者への連絡準備\\○避難所開設の準備（自主避難者の受入\\\ind 準備を含む）}
\tx{kt3}{2070}{536}{○水防団へ待機水位到達のメール配信}
\tx{kt4}{2070}{561}{○水門関係者への待機出動指示}
\bx{wbox}{ktB2}{2070}{623}{2175}{652}{第二次配備体制}
\tx{kt5}{2070}{664}{○水防団へ出動要請のメール配信\\○要配慮者施設への情報伝達\\○避難に必要な状況が夜間早朝の時間帯\\\ind に予想される場合の避難準備・高齢者\\\ind 等避難開始の発令判断}
\tx{kt6}{2070}{742}{○避難準備・高齢者等避難開始発令区の\\\ind 確認\\○避難所開設の準備（開設場所、人員）\\○必要に応じ、国・県・気象庁へ助言の要\\\ind 請}
\bx{rbox}{ktR}{2081}{806}{2251}{834}{高齢者等避難を発令}
\tx{kt7}{2070}{859}{○防災行政無線、HP、防砂情報システム\\\ind の入力による周知}
\tx{kt8}{2070}{891}{\underline{○避難所の開設（総合センター、文化会館、}\\\ind \underline{北幼、象小）}}
\tx{kt9}{2070}{924}{○要配慮者施設へ情報伝達}
\bx{wbox}{ktB3}{2073}{1020}{2148}{1066}{第三次\\配備体制}
\bx{pbox}{ktP}{2157}{1020}{2266}{1066}{避難指示\\を発令}
\tx{kt10}{2070}{1078}{○防災行政無線、HP、防砂情報システム\\\ind の入力による周知}
\tx{kt11}{2070}{1109}{○災害対策用機械（排水ポンプ車・照明車\\\ind 等）の派遣要請}
\tx{kt12}{2070}{1141}{○防災行政無線、HP、防砂情報システム\\\ind の入力による周知}
\tx{kt13}{2070}{1170}{○大雨特別警報発表の住民への周知}
\bx{kbox}{ktK}{2077}{1270}{2248}{1299}{緊急安全確保を発令}

% ---------- 善通寺市
\bx{wbox}{znB0}{2285}{150}{2348}{179}{事前配備}
\coordinate (znT) at (2290,306);
\tx{zn1}{2319}{191}{○水防上必要がある場合は、防災\\\ind 管理課が水防事務を処理}
\tx{zn2}{2319}{219}{○気象情報収集\\○水防本部準備\\○MCA無線機充電\\○車両の掌握\\○広報車の準備\\○避難所の鍵掌握\\○日没時間等、明度資料の掌握}
\bx{wbox}{znB1}{2285}{343}{2348}{419}{第一次\\配備体制\\\underline{（体制の}\\\underline{明示）}}
\tx{zn3}{2360}{350}{○参集区分により、自ら参\\\ind 集\\○一斉メールによる呼集\\○各部長、総務・土木都市\\\ind 計画・農林・建築住宅課\\\ind 長に電話連絡}
\tx{zn4}{2283}{431}{○水防本部設置\\○必要に応じ重要水防区域の監視・警戒\\○県・警察・15連隊との連携\\○防災情報システムへの入力\\○水防日誌の記録}
\bx{wbox}{znB2}{2285}{510}{2423}{554}{増強第一次配備体制\\\underline{（体制の明示）}}
\tx{zn5}{2283}{567}{○庁内放送（現体制等）\\○土のう準備\\○避難所準備}
\tx{zn6}{2283}{664}{○洪水予報（氾濫注意情報）を大杉脳外科\\\ind 医院、南部保育所へ伝達}
\bx{rbox}{znR}{2299}{806}{2468}{834}{高齢者等避難を発令}
\tx{zn7}{2283}{859}{○洪水予報（氾濫警戒情報）を大杉脳外科\\\ind 医院、南部保育所へ伝達}
\tx{zn8}{2283}{890}{○防災行政無線により周知}
\tx{zn9}{2283}{907}{○広報車で周知}
\tx{zn10}{2283}{925}{○避難所開設（南部公民館）}
\bx{wbox}{znB3}{2285}{1020}{2392}{1066}{第二次配備体制\\\underline{（体制の明示）}}
\bx{pbox}{znP}{2397}{1020}{2485}{1066}{避難指示\\を発令}
\tx{zn11}{2283}{1079}{○参集区分により、自ら参集}
\tx{zn12}{2283}{1097}{○一斉メールによる呼集}
\tx{zn13}{2283}{1115}{○洪水予報（氾濫危険情報）を大杉脳外科\\\ind 医院、南部保育所へ伝達}
\tx{zn14}{2283}{1145}{○防災行政無線により周知}
\tx{zn15}{2283}{1163}{○広報車で周知}
\tx{zn16}{2283}{1181}{○避難所開設（必要に応じ東中学校）}
\bx{wbox}{znB4}{2288}{1263}{2363}{1307}{第三次\\配備体制}
\bx{kbox}{znK}{2368}{1263}{2481}{1307}{緊急安全確保\\を発令}
\tx{zn17}{2283}{1326}{○洪水予報（氾濫発生情報）を大杉脳外科\\\ind 医院、南部保育所へ伝達}
\tx{zn18}{2283}{1356}{○決壊した場合、氾濫方向の隣接水防管\\\ind 理団体（丸亀市、多度津町）に通報}
\tx{zn19}{2283}{1387}{○中讃土木へ報告}
\tx{zn20}{2283}{1404}{○防災行政無線により周知}
\tx{zn21}{2283}{1422}{○広報車で周知}

% ---------- 多度津町
\bx{wbox}{tdB0}{2493}{173}{2555}{201}{事前配備}
\coordinate (tdT) at (2500,362);
\tx{td1}{2564}{180}{○気象情報収集\\○水防本部準備\\○無線機準備\\○車両の把握\\○広報車の準備\\○避難所開設用品の確認\\○日没時間等、明度資料\\\ind の掌握\\○水門、ポンプ点検}
\bx{wbox}{tdB1}{2492}{365}{2557}{409}{第一次\\配備体制}
\tx{td2}{2566}{373}{○水防上必要がある場合\\\ind は、総務課が水防事務\\\ind を処理}
\tx{td3}{2497}{424}{○水防本部設置\\○参集区分により自ら参集\\○連絡手段による呼集\\○総務、建設、消防長に連絡\\○各水防班長参集\\○必要に応じ重要水防区域の監視・警戒\\○防災情報システムへの記録入力\\○庁内放送}
\bx{wbox}{tdB2}{2494}{528}{2690}{590}{第二次配備体制\\\underline{（水防出動隊編成表をもとに}\\\underline{職員を動員）}}
\tx{td4}{2497}{599}{○県・警察・15連隊との連携\\○活動状況の記録\\○土のう準備}
\tx{td5}{2497}{648}{○避難所開設準備（関係職員配置準備）\\○必要物品準備}
\bx{rbox}{tdR}{2507}{806}{2676}{834}{高齢者等避難を発令}
\tx{td6}{2497}{859}{○洪水予報（氾濫警戒情報）を社会福祉\\\ind 施設へ伝達}
\tx{td7}{2497}{889}{○防災行政無線により周知}
\tx{td8}{2497}{907}{○広報車で周知}
\tx{td9}{2497}{925}{○避難所開設（豊原小学校2階以上）}
\bx{wbox}{tdB3}{2495}{1007}{2600}{1068}{第三次\\配備体制\\\underline{（全職員を動員）}}
\bx{pbox}{tdP}{2606}{1016}{2693}{1061}{避難指示\\を発令}
\tx{td10}{2497}{1079}{○参集区分により自ら参集}
\tx{td11}{2497}{1097}{○連絡手段による呼集}
\tx{td12}{2497}{1115}{○洪水予報（氾濫危険情報）を社会福祉\\\ind 施設へ伝達}
\tx{td13}{2497}{1145}{○防災行政無線により周知}
\tx{td14}{2497}{1163}{○広報車で周知}
\tx{td15}{2497}{1181}{○避難所開設（必要に応じ多度津中学校、\\\ind 四箇小学校2階以上、豊原幼稚園、多\\\ind 度津小学校2階以上、福祉センター2階\\\ind 以上））}
\bx{kbox}{tdK}{2499}{1270}{2669}{1299}{緊急安全確保を発令}
\tx{td16}{2497}{1326}{○災対本部設置}
\tx{td17}{2497}{1343}{○県へ災派要請}
\tx{td18}{2497}{1361}{○決壊した場合、氾濫方向の隣接丸亀市\\\ind に通報}
\tx{td19}{2497}{1392}{○中讃土木へ報告}
\tx{td20}{2497}{1409}{○防災行政無線により周知}
\tx{td21}{2497}{1427}{○広報車で周知}

% ---------- 住民等
\tx{jm1}{2733}{118}{○テレビ、ラジオ、インター\\\ind ネット等による気象警報等\\\ind の確認}
\tx{jm2}{2733}{193}{○ハザードマップ等による避\\\ind 難所・避難ルートの確認}
\tx{jm3}{2733}{241}{○防災グッズの準備}
\tx{jm4}{2733}{259}{○自宅保全}
\tx{jm5}{2733}{658}{○テレビ、インターネット、携\\\ind 帯メール等による大雨や\\\ind 河川の状況を確認}
\tx{jm6}{2733}{731}{○防災無線、携帯メール等に\\\ind よる高齢者等避難開始の\\\ind 受信}
\bx{rwb}{jmA}{2736}{805}{2880}{835}{要配慮者避難開始}
\tx{jm7}{2733}{868}{○防災無線、携帯メール等に\\\ind よる高齢者等避難開始の\\\ind 受信}
\tx{jm8}{2733}{931}{○避難の準備（要配慮者以外）}
\bx{rwb}{jmB}{2740}{973}{2814}{1004}{避難開始}
\tx{jm9}{2733}{1086}{○防災無線、携帯メール等に\\\ind よる緊急安全確保・避難指\\\ind 示の受信}
\bx{rwb, font=\bfseries\fontsize{8}{9.5}\selectfont}{jmC}{2738}{1164}{2864}{1197}{避難完了}
\bx{rwb}{jmD}{2733}{1260}{2879}{1312}{命の危険\\直ちに安全確保！}
\draw[orgDark, line width=1.5pt, fill=orgLite, fill opacity=0.7] (2825,848) -- (2847,848) -- (2847,1128) -- (2858,1128) -- (2836,1152) -- (2812,1128) -- (2825,1128) -- cycle;
\draw[orgDark, line width=1.5pt, fill=orgLite, fill opacity=0.7] (2770,1016) -- (2791,1016) -- (2791,1128) -- (2803,1128) -- (2780,1152) -- (2757,1128) -- (2770,1128) -- cycle;
\foreach \yy in {819,1044,1285}
    \fill[txRed] (2699,\yy-15) -- (2716,\yy-15) -- (2716,\yy-31) -- (2737,\yy) -- (2716,\yy+31) -- (2716,\yy+15) -- (2699,\yy+15) -- cycle;

% ---------- lines and connectors
\begin{pgfonlayer}{ln}
    \draw[ul, lvYel] ([yshift=-1.2pt]b6.south west) -- ([yshift=-1.2pt]b6.south east);
    \draw[ul, txRed] ([yshift=-1.2pt]b8.south west) -- ([yshift=-1.2pt]b8.south east);
    \draw[ul, txRed] ([yshift=-1.2pt]b9.south west) -- ([yshift=-1.2pt]b9.south east);
    \draw[ul, txRed] ([yshift=-1.2pt]b10.south west) -- ([yshift=-1.2pt]b10.south east);
    \draw[ul, lvPur] ([yshift=-1.2pt]b11.south west) -- ([yshift=-1.2pt]b11.south east);
    \draw[ul, black] ([yshift=-1.2pt]b13.south west) -- ([yshift=-1.2pt]b13.south east);
    \draw[ul, black] ([yshift=-1.2pt]b14.south west) -- ([yshift=-1.2pt]b14.south east);
    \draw[ul, black] ([yshift=-1.2pt]b16.south west) -- ([yshift=-1.2pt]b16.south east);
    \draw[ldash, frBlue] (s1.east |- wl1.west) -- (wl1.west);
    \draw[ldash, lvYel] (s1.east |- wl2.west) -- (wl2.west);
    \draw[ldash, lvRed] (s1.east |- wl3.west) -- (wl3.west);
    \draw[ldash, lvPur] (s1.east |- wl4.west) -- (wl4.west);
    \draw[gdash] (wl1.east) -- (wl1.east -| pR);
    \draw[gdash] (wl2.east) -- (wl2.east -| pR);
    \draw[gdash] (wl3.east) -- (wl3.east -| pR);
    \draw[gdash] (wl4.east) -- (wl4.east -| pR);
    \draw[gdash] (172,1286) -- (breach.west);
    \draw[gdash] (breach.east) -- (breach.east -| pR);
    \draw[gthin] (kw1.east) -- (kw1.east -| pR);
    \draw[gthin] (hq.east) -- (hq.east -| pR);
    \draw[arr] (early.east) -- (early.east -| lv1.west);
    \draw[arr] (heavy.east) -- (heavy.east -| lv1.west);
    \draw[arr] ([xshift=3pt]b7.east) -- (b7.east -| gL);
    \draw[arr] ([xshift=4pt]b9.east) -- (b9.east -| kw2.west);
    \draw[arr] (sb1) -- (sb1t);
    \draw[arr] (sb1t.east) -- (sb1t.east -| gL);
    \draw[arr] (fy2) -- (fyt);
    \draw[arr] (fyt.east) -- (fyt.east -| gL);
    \draw[arr] (k10.east -| gL) -- ([xshift=4pt]k10.east);
    \draw[arr] (dB) -- (dB -| gL);
    \draw[arr] (fr) -- (frt);
    \draw[arr] (frt.east) -- (frt.east -| gL);
    \draw[arr] ([xshift=5pt]k11.east) -- (k11.east -| gL);
    \draw[arr] (fp2) -- (fpt);
    \draw[arr] (fpt.east) -- (fpt.east -| gL);
    \draw[arr] ([xshift=5pt]k16.east) -- (k16.east -| gL);
    \draw[arr] (k17.east -| gL) -- ([xshift=4pt]k17.east);
    \draw[arr] (fk) -- (fkt);
    \draw[arr] (fkt.east) -- (fkt.east -| gL);
    \draw[arr] ([xshift=5pt]k20.east) -- (k20.east -| gL);
    \draw[line width=0.6pt, -{Straight Barb[length=3pt,width=6pt]}] (znB0.south -| znT) -- (znT);
    \draw[line width=0.6pt, -{Straight Barb[length=3pt,width=6pt]}] (tdB0.south -| tdT) -- (tdT);
\end{pgfonlayer}
\end{tikzpicture}
\end{document}
